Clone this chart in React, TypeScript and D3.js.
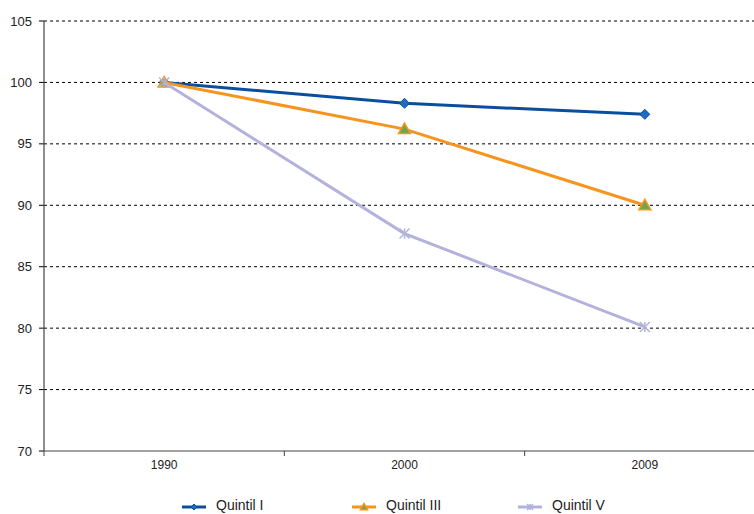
import React from "react";
import * as d3 from "d3";

const years = ["1990", "2000", "2009"];
const quintilI = [100, 98.3, 97.4];
const quintilIII = [100, 96.2, 90.0];
const quintilV = [100, 87.7, 80.1];
const yTicks = [70, 75, 80, 85, 90, 95, 100, 105];
const seriesNames = ["Quintil I", "Quintil III", "Quintil V"];

const W = 754;
const H = 514;
const left = 44;
const top = 21;
const bottom = 451;
const legendY = 505;

export default function App() {
  const x = d3.scaleBand<string>().domain(years).range([left, 765]);
  const y = d3.scaleLinear().domain([70, 105]).range([bottom, top]);
  const cx = (yr: string) => (x(yr) as number) + x.bandwidth() / 2;

  const line = d3
    .line<[string, number]>()
    .x((d) => cx(d[0]))
    .y((d) => y(d[1]));

  const series = [
    { name: seriesNames[0], values: quintilI, color: "#0a4f9e", marker: "diamond" },
    { name: seriesNames[1], values: quintilIII, color: "#f7941d", marker: "triangle" },
    { name: seriesNames[2], values: quintilV, color: "#b2b2dc", marker: "star" },
  ];

  const marker = (type: string, mx: number, my: number, key: string | number, small = false) => {
    const s = small ? 0.6 : 1;
    if (type === "diamond") {
      const r = 5 * s;
      return (
        <path
          key={key}
          d={`M${mx},${my - r}L${mx + r},${my}L${mx},${my + r}L${mx - r},${my}Z`}
          fill="#1e6bbf"
          stroke="#0a4f9e"
          strokeWidth={1}
        />
      );
    }
    if (type === "triangle") {
      const r = 6 * s;
      return (
        <path
          key={key}
          d={`M${mx},${my - r}L${mx + r},${my + r * 0.75}L${mx - r},${my + r * 0.75}Z`}
          fill="#6aa84f"
          stroke="#f7941d"
          strokeWidth={1.5}
        />
      );
    }
    const r = 5 * s;
    return (
      <g key={key} stroke="#b2b2dc" strokeWidth={1.5}>
        <line x1={mx - r} y1={my - r} x2={mx + r} y2={my + r} />
        <line x1={mx - r} y1={my + r} x2={mx + r} y2={my - r} />
        <line x1={mx} y1={my - r} x2={mx} y2={my + r} />
      </g>
    );
  };

  const legendX = [182, 352, 518];

  return (
    <svg
      width={W}
      height={H}
      style={{ position: "absolute", left: 0, top: 0, background: "#fff" }}
      fontFamily="Liberation Sans, Arial, sans-serif"
    >
      {yTicks.map((t) => (
        <g key={t}>
          {t !== 70 && (
            <line x1={left} x2={W} y1={y(t)} y2={y(t)} stroke="#000" strokeWidth={1} strokeDasharray="3,3" />
          )}
          <line x1={left - 5} x2={left} y1={y(t)} y2={y(t)} stroke="#000" />
          <text x={32} y={y(t)} dy="0.35em" textAnchor="end" fontSize={13} fill="#222">
            {t}
          </text>
        </g>
      ))}
      <line x1={left} x2={left} y1={top} y2={bottom} stroke="#444" strokeWidth={1.2} />
      <line x1={left} x2={W} y1={bottom} y2={bottom} stroke="#444" strokeWidth={1.2} />
      {years.map((yr) => (
        <g key={yr}>
          <line x1={x(yr) as number} x2={x(yr) as number} y1={bottom} y2={bottom + 5} stroke="#444" />
          <text x={cx(yr)} y={bottom + 18} textAnchor="middle" fontSize={12} fill="#222">
            {yr}
          </text>
        </g>
      ))}
      {series.map((s) => (
        <g key={s.name}>
          <path
            d={line(years.map((yr, i) => [yr, s.values[i]] as [string, number])) || ""}
            fill="none"
            stroke={s.color}
            strokeWidth={3}
          />
          {years.map((yr, i) => marker(s.marker, cx(yr), y(s.values[i]), yr))}
        </g>
      ))}
      {series.map((s, i) => (
        <g key={"lg" + s.name}>
          <line x1={legendX[i]} x2={legendX[i] + 24} y1={legendY + 2} y2={legendY + 2} stroke={s.color} strokeWidth={3} />
          {marker(s.marker, legendX[i] + 12, legendY + 2, "m", true)}
          <text x={legendX[i] + 34} y={legendY} dy="0.35em" fontSize={14} fill="#222">
            {s.name}
          </text>
        </g>
      ))}
    </svg>
  );
}
